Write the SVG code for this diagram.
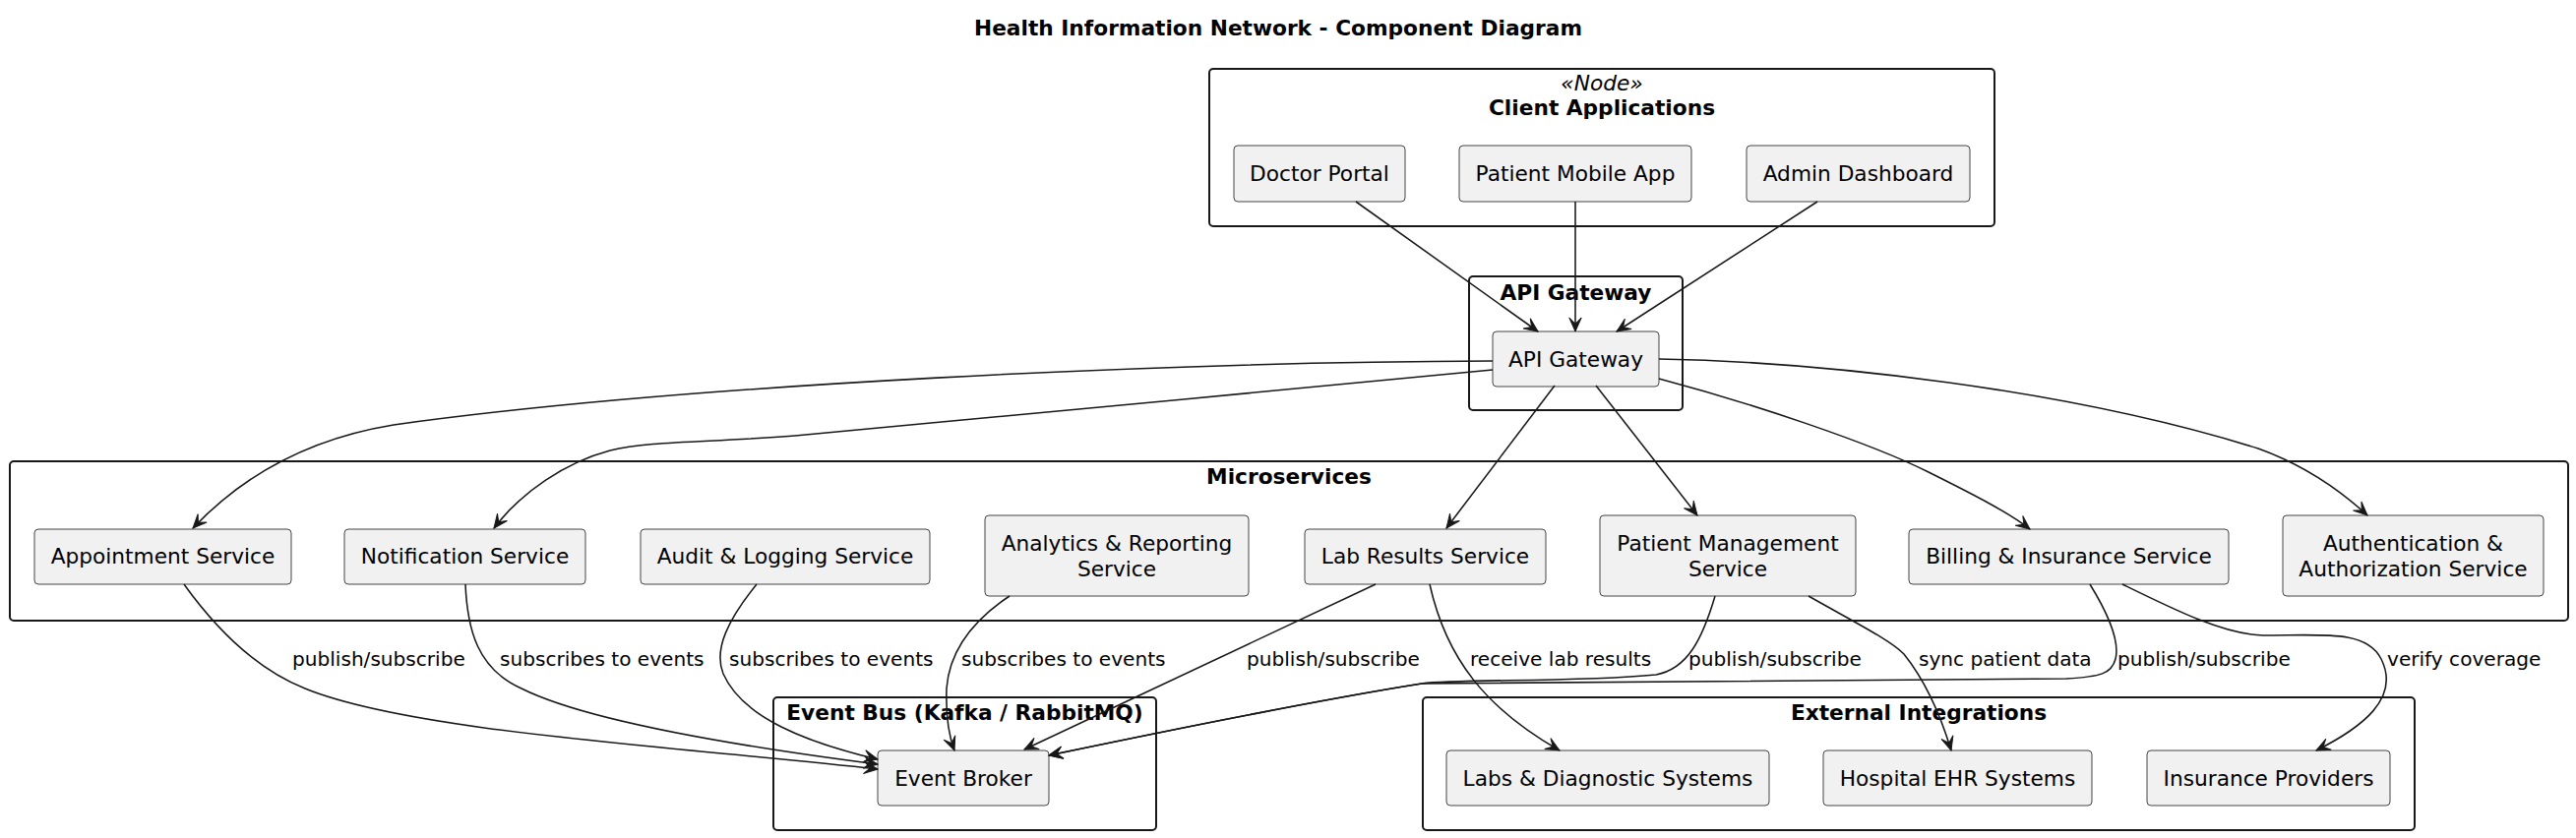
<svg xmlns="http://www.w3.org/2000/svg" width="2618" height="852" viewBox="0 0 2618 852">
<style>
text{font-family:"DejaVu Sans","Liberation Sans",sans-serif;fill:#000}
.title{font-size:21.7px;font-weight:bold;text-anchor:middle}
.ft{font-size:21.7px;font-weight:bold;text-anchor:middle}
.st{font-size:21.7px;font-style:italic;text-anchor:middle}
.nt{font-size:21.7px;text-anchor:middle}
.lb{font-size:20.1px}
.frame{fill:none;stroke:#181818;stroke-width:2}
.node{fill:#F1F1F1;stroke:#181818;stroke-width:0.8}
.edge{fill:none;stroke:#181818;stroke-width:1.55;marker-end:url(#ah)}
</style>
<defs>
<marker id="ah" markerUnits="userSpaceOnUse" markerWidth="18" markerHeight="16" viewBox="-16 -8 18 16" refX="0" refY="0" orient="auto">
<path d="M0,0 L-14,-6.2 L-7.8,0 L-14,6.2 Z" fill="#181818" stroke="#181818" stroke-width="1"/>
</marker>
</defs>
<rect width="2618" height="852" fill="#FFFFFF"/>
<text class="title" x="1299" y="36">Health Information Network - Component Diagram</text>

<g id="client-applications">
<rect class="frame" x="1229" y="70" width="798" height="160" rx="4"/>
<text class="st" x="1628" y="92">«Node»</text>
<text class="ft" x="1628" y="117">Client Applications</text>
</g>
<g id="doctor-portal"><rect class="node" x="1254" y="148" width="174" height="57" rx="4"/><text class="nt" x="1341" y="184">Doctor Portal</text></g>
<g id="patient-mobile-app"><rect class="node" x="1483" y="148" width="236" height="57" rx="4"/><text class="nt" x="1601" y="184">Patient Mobile App</text></g>
<g id="admin-dashboard"><rect class="node" x="1775" y="148" width="227" height="57" rx="4"/><text class="nt" x="1888.5" y="184">Admin Dashboard</text></g>

<g id="api-gateway-frame">
<rect class="frame" x="1493" y="281" width="217" height="136" rx="4"/>
<text class="ft" x="1601.5" y="305">API Gateway</text>
</g>
<g id="api-gateway"><rect class="node" x="1517" y="337" width="169" height="56" rx="4"/><text class="nt" x="1601.5" y="373">API Gateway</text></g>

<g id="microservices">
<rect class="frame" x="10" y="469" width="2600" height="162" rx="4"/>
<text class="ft" x="1310" y="492">Microservices</text>
</g>
<g id="appointment-service"><rect class="node" x="35" y="538" width="261" height="56" rx="4"/><text class="nt" x="165.5" y="573">Appointment Service</text></g>
<g id="notification-service"><rect class="node" x="350" y="538" width="245" height="56" rx="4"/><text class="nt" x="472.5" y="573">Notification Service</text></g>
<g id="audit-logging-service"><rect class="node" x="651" y="538" width="294" height="56" rx="4"/><text class="nt" x="798" y="573">Audit &amp; Logging Service</text></g>
<g id="analytics-reporting-service"><rect class="node" x="1001" y="524" width="268" height="82" rx="4"/><text class="nt" x="1135" y="560">Analytics &amp; Reporting</text><text class="nt" x="1135" y="586">Service</text></g>
<g id="lab-results-service"><rect class="node" x="1326" y="538" width="245" height="56" rx="4"/><text class="nt" x="1448.5" y="573">Lab Results Service</text></g>
<g id="patient-management-service"><rect class="node" x="1626" y="524" width="260" height="82" rx="4"/><text class="nt" x="1756" y="560">Patient Management</text><text class="nt" x="1756" y="586">Service</text></g>
<g id="billing-insurance-service"><rect class="node" x="1940" y="538" width="325" height="56" rx="4"/><text class="nt" x="2102.5" y="573">Billing &amp; Insurance Service</text></g>
<g id="authentication-service"><rect class="node" x="2320" y="524" width="265" height="82" rx="4"/><text class="nt" x="2452.5" y="560">Authentication &amp;</text><text class="nt" x="2452.5" y="586">Authorization Service</text></g>

<g id="event-bus">
<rect class="frame" x="786" y="709" width="389" height="135" rx="4"/>
<text class="ft" x="980.5" y="732">Event Bus (Kafka / RabbitMQ)</text>
</g>
<g id="event-broker"><rect class="node" x="892" y="763" width="174" height="56" rx="4"/><text class="nt" x="979" y="799">Event Broker</text></g>

<g id="external-integrations">
<rect class="frame" x="1446" y="709" width="1008" height="135" rx="4"/>
<text class="ft" x="1950" y="732">External Integrations</text>
</g>
<g id="labs-diagnostic-systems"><rect class="node" x="1470" y="763" width="328" height="56" rx="4"/><text class="nt" x="1634" y="799">Labs &amp; Diagnostic Systems</text></g>
<g id="hospital-ehr-systems"><rect class="node" x="1853" y="763" width="273" height="56" rx="4"/><text class="nt" x="1989.5" y="799">Hospital EHR Systems</text></g>
<g id="insurance-providers"><rect class="node" x="2182" y="763" width="247" height="56" rx="4"/><text class="nt" x="2305.5" y="799">Insurance Providers</text></g>

<g id="connectors">
<path class="edge" d="M1378,205 L1563,337"/>
<path class="edge" d="M1601,205 L1601,337"/>
<path class="edge" d="M1847,205 L1643,337"/>
<path class="edge" d="M1517,367 C1200,368 700,390 400,432 C320,445 250,480 196,537"/>
<path class="edge" d="M1517,376 C1300,397 1000,425 808,443 C720,450 660,448 620,458 C575,470 530,500 502,537"/>
<path class="edge" d="M1580,392 L1470,537"/>
<path class="edge" d="M1622,392 L1725,524"/>
<path class="edge" d="M1686,385 C1780,410 1900,450 1960,480 C2000,500 2040,520 2063,538"/>
<path class="edge" d="M1686,365 C1850,368 2100,395 2295,456 C2345,474 2380,500 2406,524"/>
<path class="edge" d="M187,594 C220,640 260,680 310,700 C420,745 700,760 892,782"/>
<path class="edge" d="M473,594 C475,640 485,680 530,700 C600,735 760,760 892,777"/>
<path class="edge" d="M769,594 C740,630 725,660 735,685 C755,730 820,755 892,772"/>
<path class="edge" d="M1026,606 C990,630 965,660 962,700 C961,730 965,750 970,763"/>
<path class="edge" d="M1398,594 L1041,762"/>
<path class="edge" d="M1453,594 C1470,670 1510,720 1585,763"/>
<path class="edge" d="M1743,606 C1730,650 1715,680 1683,686 C1600,694 1480,690 1445,695 C1350,710 1200,740 1066,768"/>
<path class="edge" d="M1838,606 C1880,630 1920,650 1935,665 C1955,690 1970,720 1983,763"/>
<path class="edge" d="M2124,594 C2140,620 2155,650 2150,670 C2146,685 2135,688 2100,690 L1445,695 C1350,710 1200,740 1066,768"/>
<path class="edge" d="M2157,594 C2210,620 2260,645 2300,646 C2360,646 2405,640 2420,670 C2440,710 2400,740 2354,763"/>
<text class="lb" x="297" y="677">publish/subscribe</text>
<text class="lb" x="508" y="677">subscribes to events</text>
<text class="lb" x="741" y="677">subscribes to events</text>
<text class="lb" x="977" y="677">subscribes to events</text>
<text class="lb" x="1267" y="677">publish/subscribe</text>
<text class="lb" x="1494" y="677">receive lab results</text>
<text class="lb" x="1716" y="677">publish/subscribe</text>
<text class="lb" x="1950" y="677">sync patient data</text>
<text class="lb" x="2152" y="677">publish/subscribe</text>
<text class="lb" x="2426" y="677">verify coverage</text>
</g>
</svg>
